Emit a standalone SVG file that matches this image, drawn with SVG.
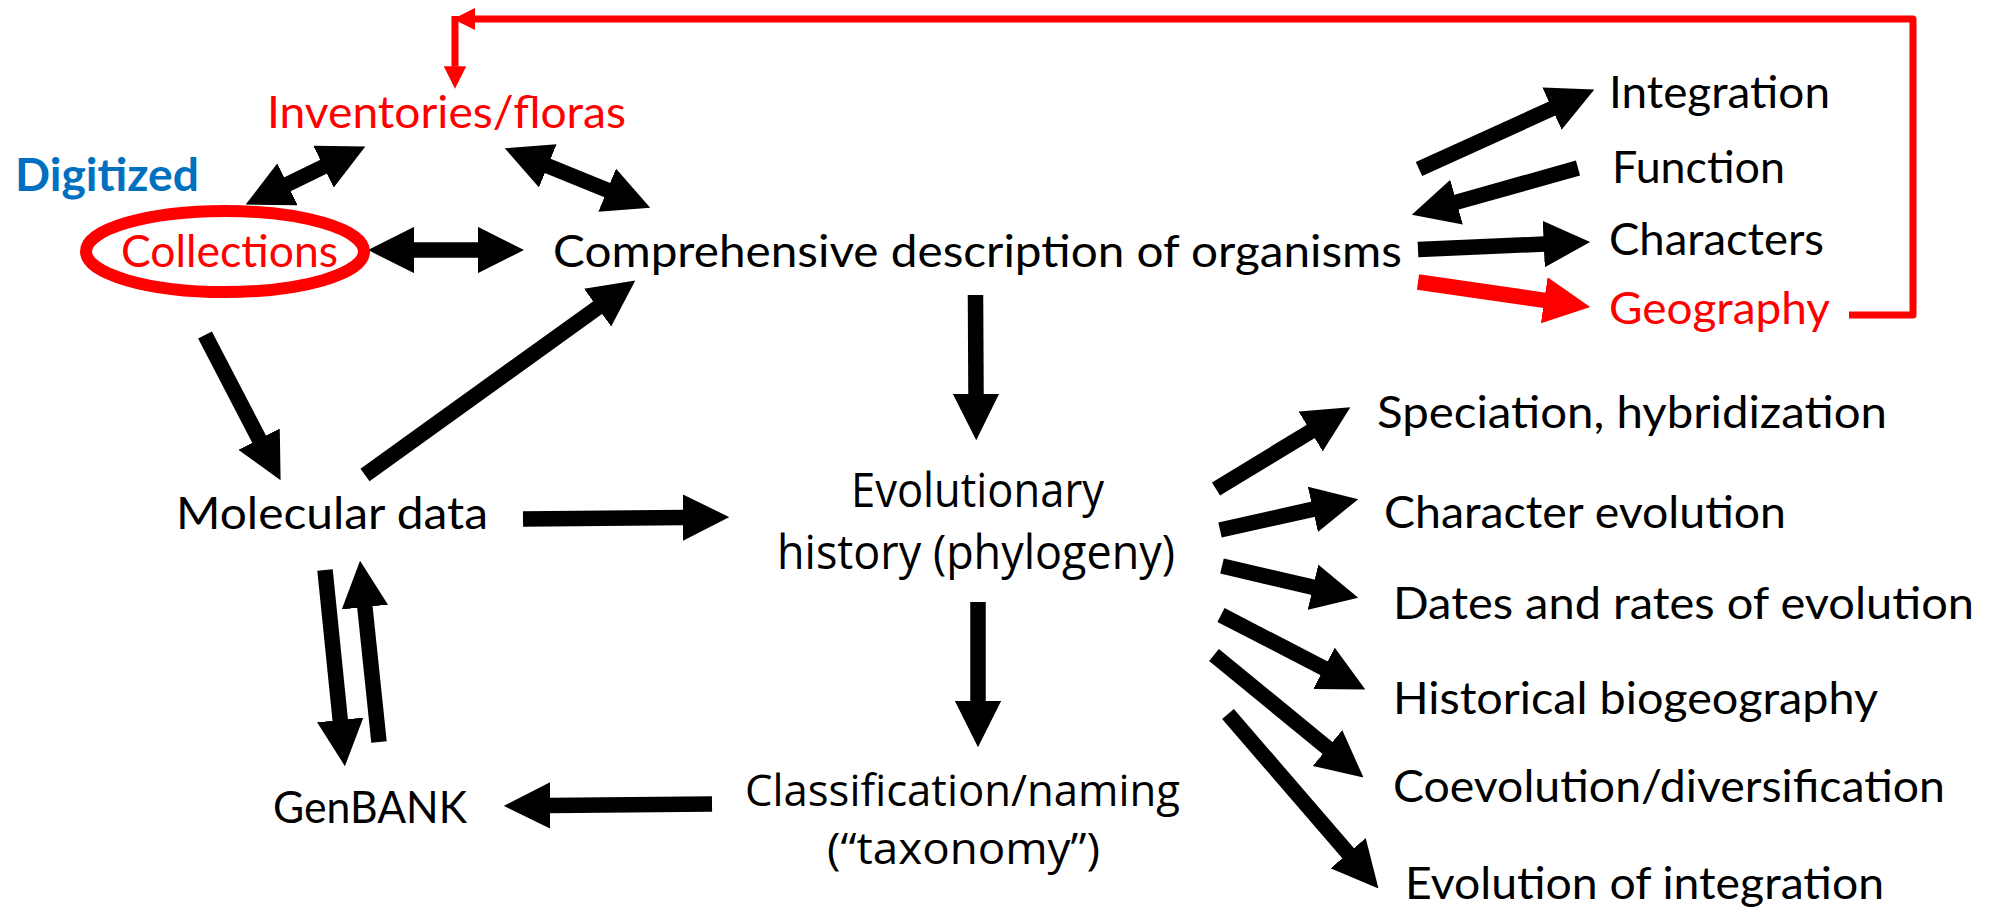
<svg xmlns="http://www.w3.org/2000/svg" width="1992" height="915" viewBox="0 0 1992 915">
<defs>
<style>
.t{font-family:Lato,"Open Sans","Liberation Sans",sans-serif;font-size:45px;fill:#000}
.o{font-family:"Open Sans",Lato,"Liberation Sans",sans-serif;font-size:47px;fill:#000}
.o2{font-family:"Open Sans",Lato,"Liberation Sans",sans-serif;font-size:43px;fill:#000}
.red{fill:#FF0000}
.blue{fill:#0070C0;font-weight:bold}
.a{stroke:#000;stroke-width:15.5;fill:none;marker-end:url(#ah)}
.d{stroke:#000;stroke-width:15.5;fill:none;marker-start:url(#ah);marker-end:url(#ah)}
.ar{stroke:#FF0000;stroke-width:15.5;fill:none;marker-end:url(#ahr)}
.loop{stroke:#FF0000;stroke-width:7;fill:none;stroke-linejoin:round}
</style>
<marker id="ah" viewBox="0 0 3 3" refX="0.05" refY="1.5" markerWidth="3" markerHeight="3" orient="auto-start-reverse" markerUnits="strokeWidth"><path d="M0,0 L3,1.5 L0,3 z" fill="#000"/></marker>
<marker id="ahr" viewBox="0 0 3 3" refX="0.05" refY="1.5" markerWidth="3" markerHeight="3" orient="auto" markerUnits="strokeWidth"><path d="M0,0 L3,1.5 L0,3 z" fill="#FF0000"/></marker>
<marker id="rh" viewBox="0 0 3.2 3.2" refX="0.05" refY="1.6" markerWidth="3.2" markerHeight="3.2" orient="auto" markerUnits="strokeWidth"><path d="M0,0 L3.2,1.6 L0,3.2 z" fill="#FF0000"/></marker>
</defs>
<rect width="1992" height="915" fill="#fff"/>

<g id="connectors">
<line class="d" x1="286.8" y1="184.6" x2="324.2" y2="166.4"/>
<line class="d" x1="547.1" y1="165.6" x2="607.9" y2="190.4"/>
<line class="d" x1="413.5" y1="250" x2="478.5" y2="250"/>
<line class="a" x1="205" y1="335" x2="259.5" y2="439.8"/>
<line class="a" x1="365" y1="475" x2="598.2" y2="307.2"/>
<line class="a" x1="523" y1="519" x2="683.5" y2="517.5"/>
<line class="a" x1="325" y1="570" x2="340.3" y2="720.7"/>
<line class="a" x1="379" y1="742" x2="364.8" y2="606.3"/>
<line class="a" x1="712" y1="804" x2="549.5" y2="805.5"/>
<line class="a" x1="975.5" y1="295" x2="976" y2="394.5"/>
<line class="a" x1="978" y1="602" x2="978" y2="701.5"/>
<line class="a" x1="1419" y1="169" x2="1552.7" y2="108.3"/>
<line class="a" x1="1578" y1="168" x2="1455.8" y2="202.4"/>
<line class="a" x1="1418" y1="249.5" x2="1544.5" y2="244"/>
<line class="ar" x1="1418" y1="282" x2="1545" y2="300.4"/>
<line class="a" x1="1216" y1="489" x2="1311.3" y2="431.1"/>
<line class="a" x1="1220" y1="530" x2="1313.6" y2="509.1"/>
<line class="a" x1="1222" y1="566" x2="1313.7" y2="587.4"/>
<line class="a" x1="1221" y1="615" x2="1324.7" y2="668.6"/>
<line class="a" x1="1214" y1="655" x2="1328.1" y2="748.5"/>
<line class="a" x1="1228" y1="714" x2="1348.6" y2="853.8"/>
<polyline class="loop" points="1849,315 1913,315 1913,19 475,19" marker-end="url(#rh)"/>
<line class="loop" x1="455" y1="16" x2="455" y2="66.6" marker-end="url(#rh)"/>
</g>

<g id="digitized"><text class="t blue" x="15" y="191" textLength="184" lengthAdjust="spacingAndGlyphs">Digitized</text></g>
<g id="inventories"><text class="t red" x="267" y="128" textLength="359" lengthAdjust="spacingAndGlyphs">Inventories/floras</text></g>
<g id="collections">
<ellipse cx="225" cy="251.5" rx="139" ry="40.5" fill="none" stroke="#FF0000" stroke-width="12"/>
<text class="t red" x="121" y="267" textLength="217" lengthAdjust="spacingAndGlyphs">Collections</text>
</g>
<g id="comprehensive"><text class="t" x="553" y="267" textLength="849" lengthAdjust="spacingAndGlyphs">Comprehensive  description  of  organisms</text></g>
<g id="integration"><text class="t" x="1609" y="108" textLength="221" lengthAdjust="spacingAndGlyphs">Integration</text></g>
<g id="function"><text class="t" x="1612" y="183" textLength="173" lengthAdjust="spacingAndGlyphs">Function</text></g>
<g id="characters"><text class="t" x="1609" y="255" textLength="215" lengthAdjust="spacingAndGlyphs">Characters</text></g>
<g id="geography"><text class="t red" x="1609" y="324" textLength="221" lengthAdjust="spacingAndGlyphs">Geography</text></g>
<g id="molecular"><text class="t" x="176" y="529" textLength="312" lengthAdjust="spacingAndGlyphs">Molecular  data</text></g>
<g id="evolutionary">
<text class="o" x="851" y="507" textLength="253" lengthAdjust="spacingAndGlyphs">Evolutionary</text>
<text class="o" x="777" y="569" textLength="398" lengthAdjust="spacingAndGlyphs">history  (phylogeny)</text>
</g>
<g id="genbank"><text class="t" x="273" y="823" textLength="194" lengthAdjust="spacingAndGlyphs">GenBANK</text></g>
<g id="classification">
<text class="o2" x="745" y="806" textLength="435" lengthAdjust="spacingAndGlyphs">Classification/naming</text>
<text class="o2" x="827" y="864" textLength="273" lengthAdjust="spacingAndGlyphs">(“taxonomy”)</text>
</g>
<g id="speciation"><text class="t" x="1377" y="428" textLength="510" lengthAdjust="spacingAndGlyphs">Speciation,  hybridization</text></g>
<g id="charevo"><text class="t" x="1384" y="528" textLength="402" lengthAdjust="spacingAndGlyphs">Character  evolution</text></g>
<g id="dates"><text class="t" x="1393" y="619" textLength="581" lengthAdjust="spacingAndGlyphs">Dates and  rates of evolution</text></g>
<g id="historical"><text class="t" x="1393" y="714" textLength="485" lengthAdjust="spacingAndGlyphs">Historical  biogeography</text></g>
<g id="coevolution"><text class="t" x="1393" y="802" textLength="552" lengthAdjust="spacingAndGlyphs">Coevolution/diversification</text></g>
<g id="evointegration"><text class="t" x="1405" y="899" textLength="479" lengthAdjust="spacingAndGlyphs">Evolution  of integration</text></g>
</svg>
